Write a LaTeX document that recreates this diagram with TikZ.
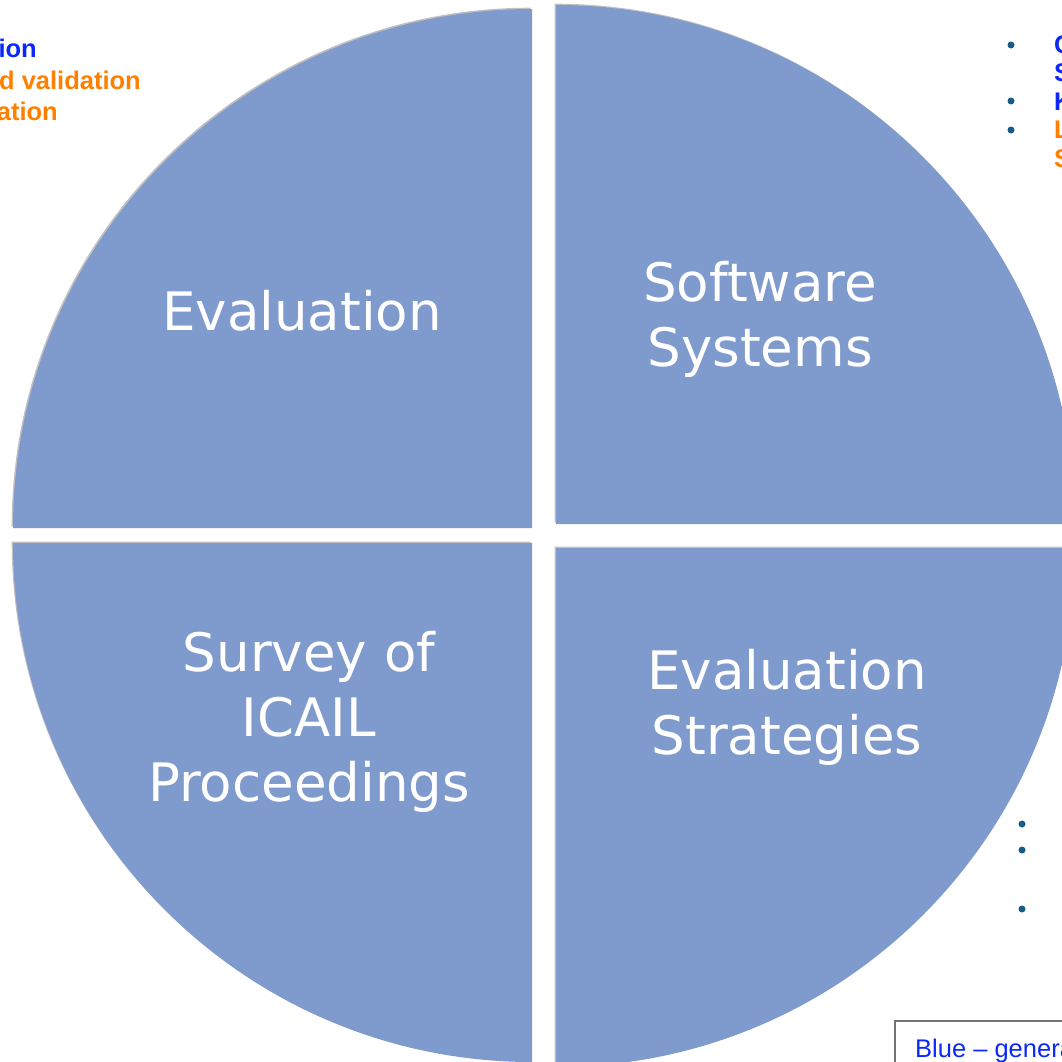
\documentclass[tikz,border=0pt]{standalone}
\usepackage{fontspec}
\setmainfont{DejaVu Sans}
\newfontfamily\arialfont{Liberation Sans}
\begin{document}
\begin{tikzpicture}[x=1pt,y=-1pt,
  quad/.style={fill={rgb,255:red,127;green,154;blue,204}},
  quadshadow/.style={fill=black!45,opacity=0.55},
  title/.style={text=white,font=\fontsize{53}{65}\selectfont,align=center},
  note/.style={font=\arialfont\bfseries\fontsize{25.5}{28}\selectfont,inner sep=0pt},
  dot/.style={circle,fill={rgb,255:red,24;green,92;blue,138},inner sep=0pt,minimum size=7pt}]
\definecolor{noteblue}{RGB}{10,40,250}
\definecolor{noteorange}{RGB}{255,128,0}
\useasboundingbox (0,0) rectangle (1062,1061);
\clip (0,0) rectangle (1062,1061);

% four quarter discs, each with a faint shadow on its upper left edges
\foreach \cx/\cy/\sa/\ea in {532/528/180/270, 556/524/270/360, 532/543/180/90, 556/548/0/90}{
  \fill[quadshadow] ({\cx-1.3},{\cy-1.3}) -- +(\sa:519) arc[start angle=\sa,end angle=\ea,radius=519] -- cycle;
  \fill[quad] (\cx,\cy) -- +(\sa:519) arc[start angle=\sa,end angle=\ea,radius=519] -- cycle;
}

% quadrant titles
\node[title] (eval) at (302,311) {Evaluation};
\node[title] (soft) at (760,319) {Software\\Systems};
\node[title] (survey) at (309,722) {Survey of\\ICAIL\\Proceedings};
\node[title] (strat) at (787,707) {Evaluation\\Strategies};

% notes running in from the left edge
\node[note,text=noteblue,anchor=base east] (n1) at (37,57) {ion};
\node[note,text=noteorange,anchor=base east] (n2) at (141,89) {d validation};
\node[note,text=noteorange,anchor=base east] (n3) at (58,120) {ation};

% bullet list running off the right edge
\node[dot] (b1) at (1011,45) {};
\node[dot] (b2) at (1011,101) {};
\node[dot] (b3) at (1011,130) {};
\node[note,text=noteblue,anchor=base west] (r1) at (1054,53) {C};
\node[note,text=noteblue,anchor=base west] (r2) at (1054,81) {S};
\node[note,text=noteblue,anchor=base west] (r3) at (1054,110) {K};
\node[note,text=noteorange,anchor=base west] (r4) at (1054,138) {L};
\node[note,text=noteorange,anchor=base west] (r5) at (1054,167) {S};

% lower right bullets
\node[dot] (c1) at (1022,824) {};
\node[dot] (c2) at (1022,850) {};
\node[dot] (c3) at (1022,909) {};

% legend box
\draw[draw=black!55,line width=2pt] (895,1021) rectangle (1100,1100);
\node[font=\arialfont\fontsize{25.5}{28}\selectfont,text=noteblue,anchor=base west,inner sep=0pt] (legend) at (915,1057) {Blue – general};
\end{tikzpicture}
\end{document}
